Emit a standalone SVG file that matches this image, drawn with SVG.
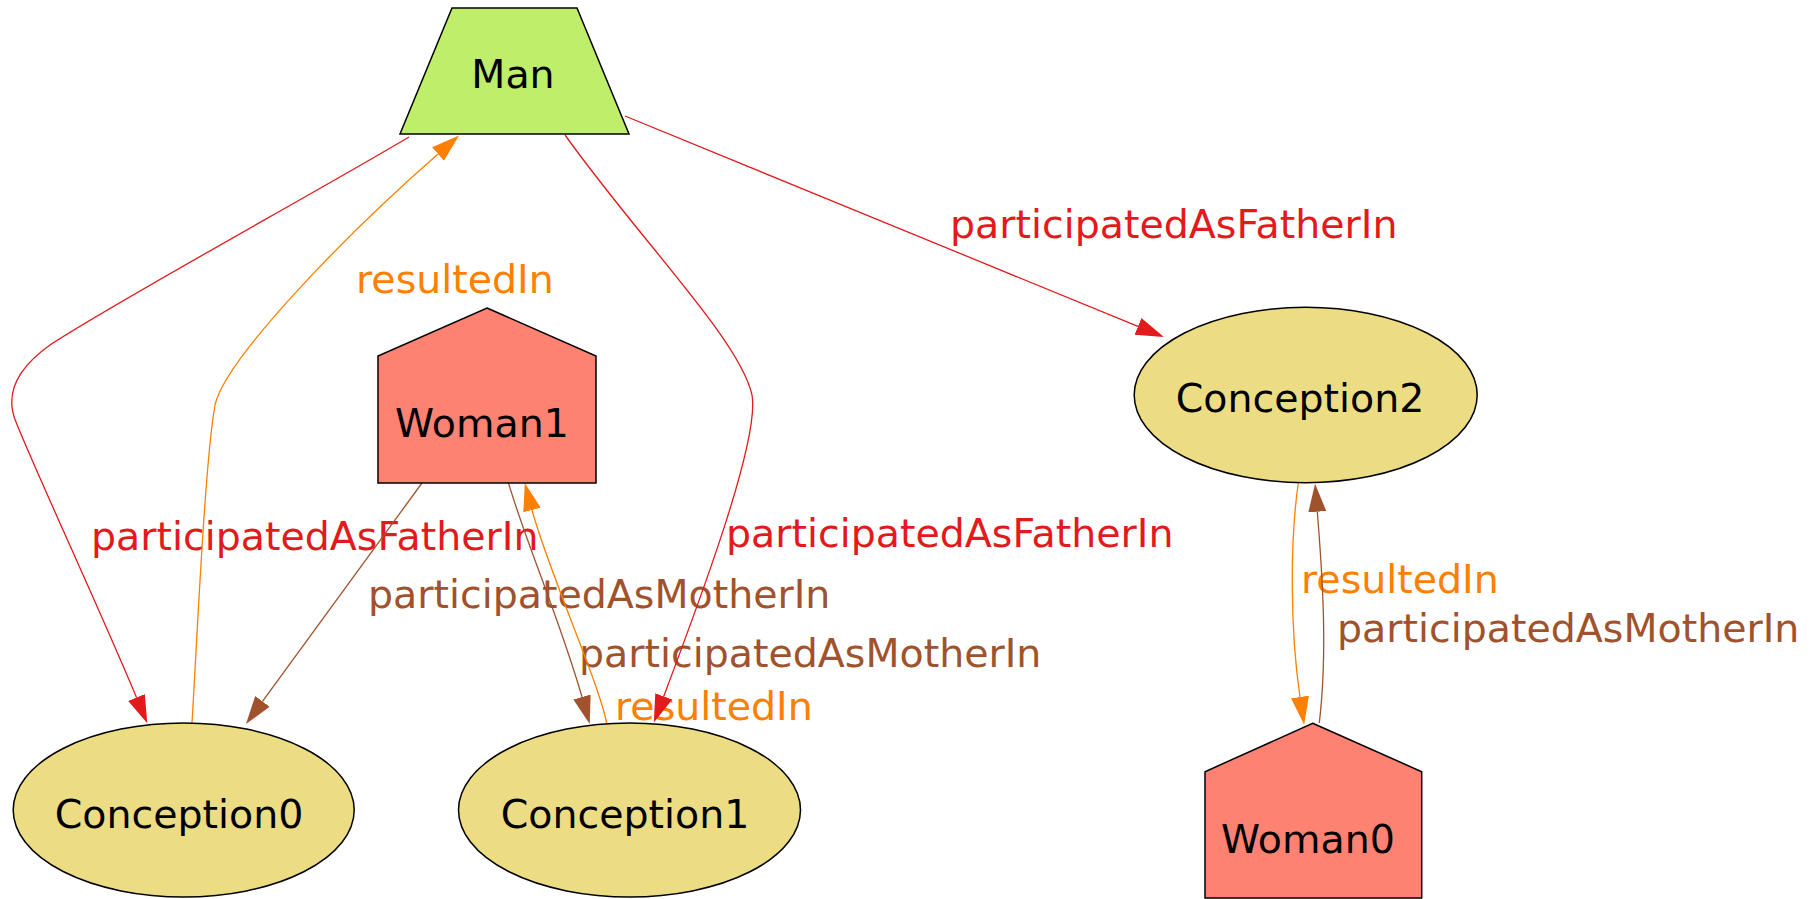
<svg xmlns="http://www.w3.org/2000/svg" width="1816" height="899" viewBox="0 0 1816 899">
  <style>
    .node-shape { stroke: #000; stroke-width: 1.5; }
    .man { fill: #bfee6b; }
    .woman { fill: #fe8272; }
    .conception { fill: #ecdd84; }
    .node-label { font-family: "DejaVu Sans", sans-serif; font-size: 39.5px; fill: #000; text-anchor: middle; }
    .edge { fill: none; stroke-width: 1.3; }
    .edge-label { font-family: "DejaVu Sans", sans-serif; font-size: 39.5px; }
    .father { stroke: #e31a1c; }
    .mother { stroke: #a0522d; }
    .result { stroke: #ff7f00; }
    .father-text { fill: #e31a1c; }
    .mother-text { fill: #a0522d; }
    .result-text { fill: #ff7f00; }
  </style>
  <defs>
    <marker id="arrow-father" markerUnits="userSpaceOnUse" markerWidth="30" markerHeight="20" refX="0" refY="9" orient="auto">
      <path d="M0,0 L28,9 L0,18 z" fill="#e31a1c"/>
    </marker>
    <marker id="arrow-mother" markerUnits="userSpaceOnUse" markerWidth="30" markerHeight="20" refX="0" refY="9" orient="auto">
      <path d="M0,0 L28,9 L0,18 z" fill="#a0522d"/>
    </marker>
    <marker id="arrow-result" markerUnits="userSpaceOnUse" markerWidth="30" markerHeight="20" refX="0" refY="9" orient="auto">
      <path d="M0,0 L28,9 L0,18 z" fill="#ff7f00"/>
    </marker>
  </defs>
  <rect width="1816" height="899" fill="#fff"/>

  <g id="edges">
    <g id="edge-man-conception0">
      <path class="edge father" marker-end="url(#arrow-father)" d="M409,137 C320,190 110,305 50,345 C12,372 6,398 16,422 C35,470 100,610 136.5,697.5"/>
      <text class="edge-label father-text" x="91" y="550">participatedAsFatherIn</text>
    </g>
    <g id="edge-conception0-man">
      <path class="edge result" marker-end="url(#arrow-result)" d="M192,723 C197,640 205,460 215,405 C225,360 340,240 438,154"/>
      <text class="edge-label result-text" x="356" y="293">resultedIn</text>
    </g>
    <g id="edge-woman1-conception0">
      <path class="edge mother" marker-end="url(#arrow-mother)" d="M422,483 L262.5,701.4"/>
      <text class="edge-label mother-text" x="368" y="608">participatedAsMotherIn</text>
    </g>
    <g id="edge-woman1-conception1">
      <path class="edge mother" marker-end="url(#arrow-mother)" d="M508.5,483 C525,540 560,620 582,697"/>
      <text class="edge-label mother-text" x="579" y="667">participatedAsMotherIn</text>
    </g>
    <g id="edge-conception1-woman1">
      <path class="edge result" marker-end="url(#arrow-result)" d="M606.7,723 C598,680 548,570 532,510"/>
      <text class="edge-label result-text" x="615" y="720">resultedIn</text>
    </g>
    <g id="edge-man-conception1">
      <path class="edge father" marker-end="url(#arrow-father)" d="M565,135 C640,240 740,340 752,395 C760,440 700,600 663.7,696.4"/>
      <text class="edge-label father-text" x="726" y="547">participatedAsFatherIn</text>
    </g>
    <g id="edge-man-conception2">
      <path class="edge father" marker-end="url(#arrow-father)" d="M625,116 L1138,326.4"/>
      <text class="edge-label father-text" x="950" y="238">participatedAsFatherIn</text>
    </g>
    <g id="edge-conception2-woman0">
      <path class="edge result" marker-end="url(#arrow-result)" d="M1298.3,483 C1290,540 1290,630 1300,697"/>
      <text class="edge-label result-text" x="1301" y="593">resultedIn</text>
    </g>
    <g id="edge-woman0-conception2">
      <path class="edge mother" marker-end="url(#arrow-mother)" d="M1319.3,723 C1328,650 1322,570 1317.3,511.7"/>
      <text class="edge-label mother-text" x="1337" y="642">participatedAsMotherIn</text>
    </g>
  </g>

  <g id="node-man">
    <polygon class="node-shape man" points="452,8 577,8 629,134 400,134"/>
    <text class="node-label" x="513" y="88">Man</text>
  </g>
  <g id="node-woman1">
    <polygon class="node-shape woman" points="487,308 596,356 596,483 378,483 378,356"/>
    <text class="node-label" x="482" y="437">Woman1</text>
  </g>
  <g id="node-conception2">
    <ellipse class="node-shape conception" cx="1305.7" cy="395" rx="171.5" ry="87.7"/>
    <text class="node-label" x="1300" y="412">Conception2</text>
  </g>
  <g id="node-conception0">
    <ellipse class="node-shape conception" cx="183.7" cy="810" rx="170.5" ry="87"/>
    <text class="node-label" x="179" y="828">Conception0</text>
  </g>
  <g id="node-conception1">
    <ellipse class="node-shape conception" cx="629.5" cy="810" rx="171" ry="87"/>
    <text class="node-label" x="625" y="828">Conception1</text>
  </g>
  <g id="node-woman0">
    <polygon class="node-shape woman" points="1312.7,723.3 1421.7,771.7 1421.7,898 1205,898 1205,771.7"/>
    <text class="node-label" x="1308" y="853">Woman0</text>
  </g>
</svg>
